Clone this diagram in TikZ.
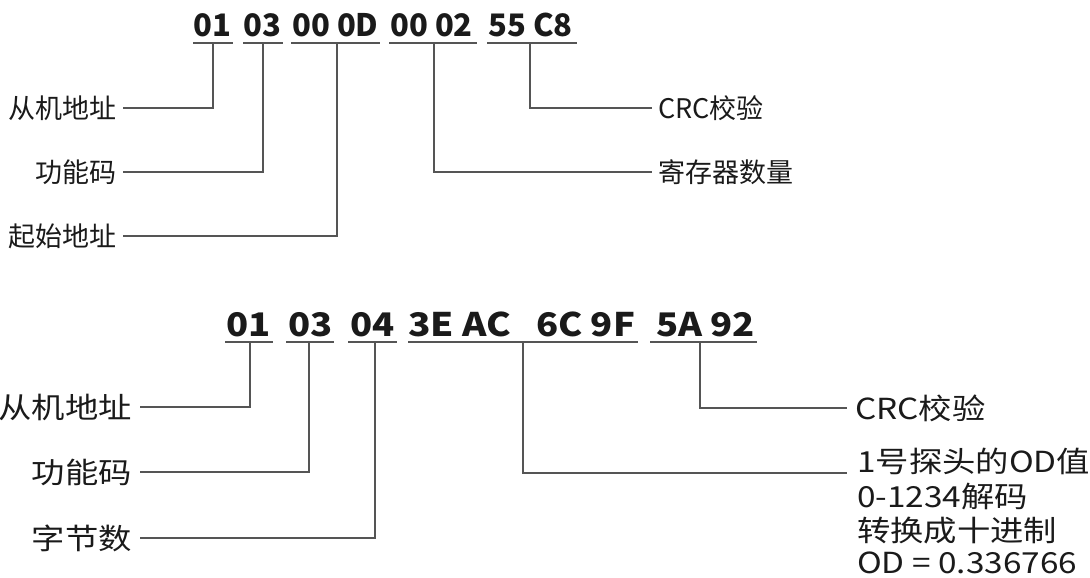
\documentclass[tikz,border=0pt]{standalone}
\usepackage{fontspec}
\usepackage{graphicx}
\setmainfont{Noto Sans CJK SC}
\definecolor{ink}{HTML}{1A1A1A}
\definecolor{wirecol}{HTML}{555555}
\begin{document}
\begin{tikzpicture}[x=1pt,y=-1pt,
  hex/.style={anchor=base west, inner sep=0pt, text=ink, font=\bfseries\fontsize{31}{31}\selectfont},
  hexb/.style={anchor=base west, inner sep=0pt, text=ink, font=\bfseries\fontsize{32.5}{32.5}\selectfont},
  lab/.style={inner xsep=6pt, inner ysep=0pt, text=ink, font=\fontsize{27}{30}\selectfont},
  labb/.style={inner xsep=8pt, inner ysep=0pt, text=ink, font=\fontsize{29}{33}\selectfont},
  conn/.style={draw=wirecol, line width=1.5pt},
  uline/.style={draw=wirecol, line width=1.5pt}]
\useasboundingbox (0,0) rectangle (1090,578);

% ---------- top frame ----------
\node[hex] (h1) at (193,37) {01};
\node[hex] (h2) at (243,37) {03};
\node[hex] (h3) at (292,37) {00 0D};
\node[hex] (h4) at (390,37) {00 02};
\node[hex] (h5) at (488,37) {55 C8};
\draw[uline] (193,43) -- (233,43);
\draw[uline] (243,43) -- (283,43);
\draw[uline] (291,43) -- (380,43);
\draw[uline] (389,43) -- (477,43);
\draw[uline] (487,43) -- (577,43);
\coordinate (t1) at (213,43);
\coordinate (t2) at (263,43);
\coordinate (t3) at (337,43);
\coordinate (t4) at (434,43);
\coordinate (t5) at (530,43);

\node[lab, anchor=east] (a1) at (123,108) {从机地址};
\node[lab, anchor=east] (a2) at (123,172) {功能码};
\node[lab, anchor=east] (a3) at (123,236) {起始地址};
\node[lab, anchor=west] (a5) at (652,108) {CRC校验};
\node[lab, anchor=west] (a4) at (652,172) {寄存器数量};
\draw[conn] (a1.east) -| (t1);
\draw[conn] (a2.east) -| (t2);
\draw[conn] (a3.east) -| (t3);
\draw[conn] (t4) |- (a4.west);
\draw[conn] (t5) |- (a5.west);

% ---------- bottom frame ----------
\node[hexb] (g1) at (226,336) {\scalebox{1.12}[1]{01}};
\node[hexb] (g2) at (288,336) {\scalebox{1.12}[1]{03}};
\node[hexb] (g3) at (350,336) {\scalebox{1.12}[1]{04}};
\node[hexb] (g4) at (408,336) {\scalebox{1.14}[1]{3E AC}};
\node[hexb] (g5) at (536,336) {\scalebox{1.12}[1]{6C 9F}};
\node[hexb] (g6) at (656,336) {\scalebox{1.12}[1]{5A 92}};
\draw[uline] (225,342) -- (273,342);
\draw[uline] (286,342) -- (334,342);
\draw[uline] (348,342) -- (397,342);
\draw[uline] (408,342) -- (638,342);
\draw[uline] (650,342) -- (757,342);
\coordinate (b1) at (250,342);
\coordinate (b2) at (309,342);
\coordinate (b3) at (375,342);
\coordinate (b4) at (523,342);
\coordinate (b5) at (700,342);

\node[labb, anchor=east] (c1) at (140,407) {\scalebox{1.15}[1]{从机地址}};
\node[labb, anchor=east] (c2) at (140,472) {\scalebox{1.15}[1]{功能码}};
\node[labb, anchor=east] (c3) at (140,538) {\scalebox{1.15}[1]{字节数}};
\node[labb, anchor=west] (c5) at (847,408) {\scalebox{1.15}[1]{CRC校验}};
\node[inner sep=0pt, anchor=south west, text=ink, font=\fontsize{29}{32.5}\selectfont] (od) at (857,574)
  {\scalebox{1.15}[1]{\raisebox{0pt}[\height][0pt]{\begin{tabular}[b]{@{}l@{}}1号探头的OD值\\0-1234解码\\转换成十进制\\OD = 0.336766\end{tabular}}}};
\draw[conn] (c1.east) -| (b1);
\draw[conn] (c2.east) -| (b2);
\draw[conn] (c3.east) -| (b3);
\draw[conn] (b5) |- (c5.west);
\draw[conn] (b4) |- ([xshift=-10pt,yshift=101pt]od.south west);
\end{tikzpicture}
\end{document}
